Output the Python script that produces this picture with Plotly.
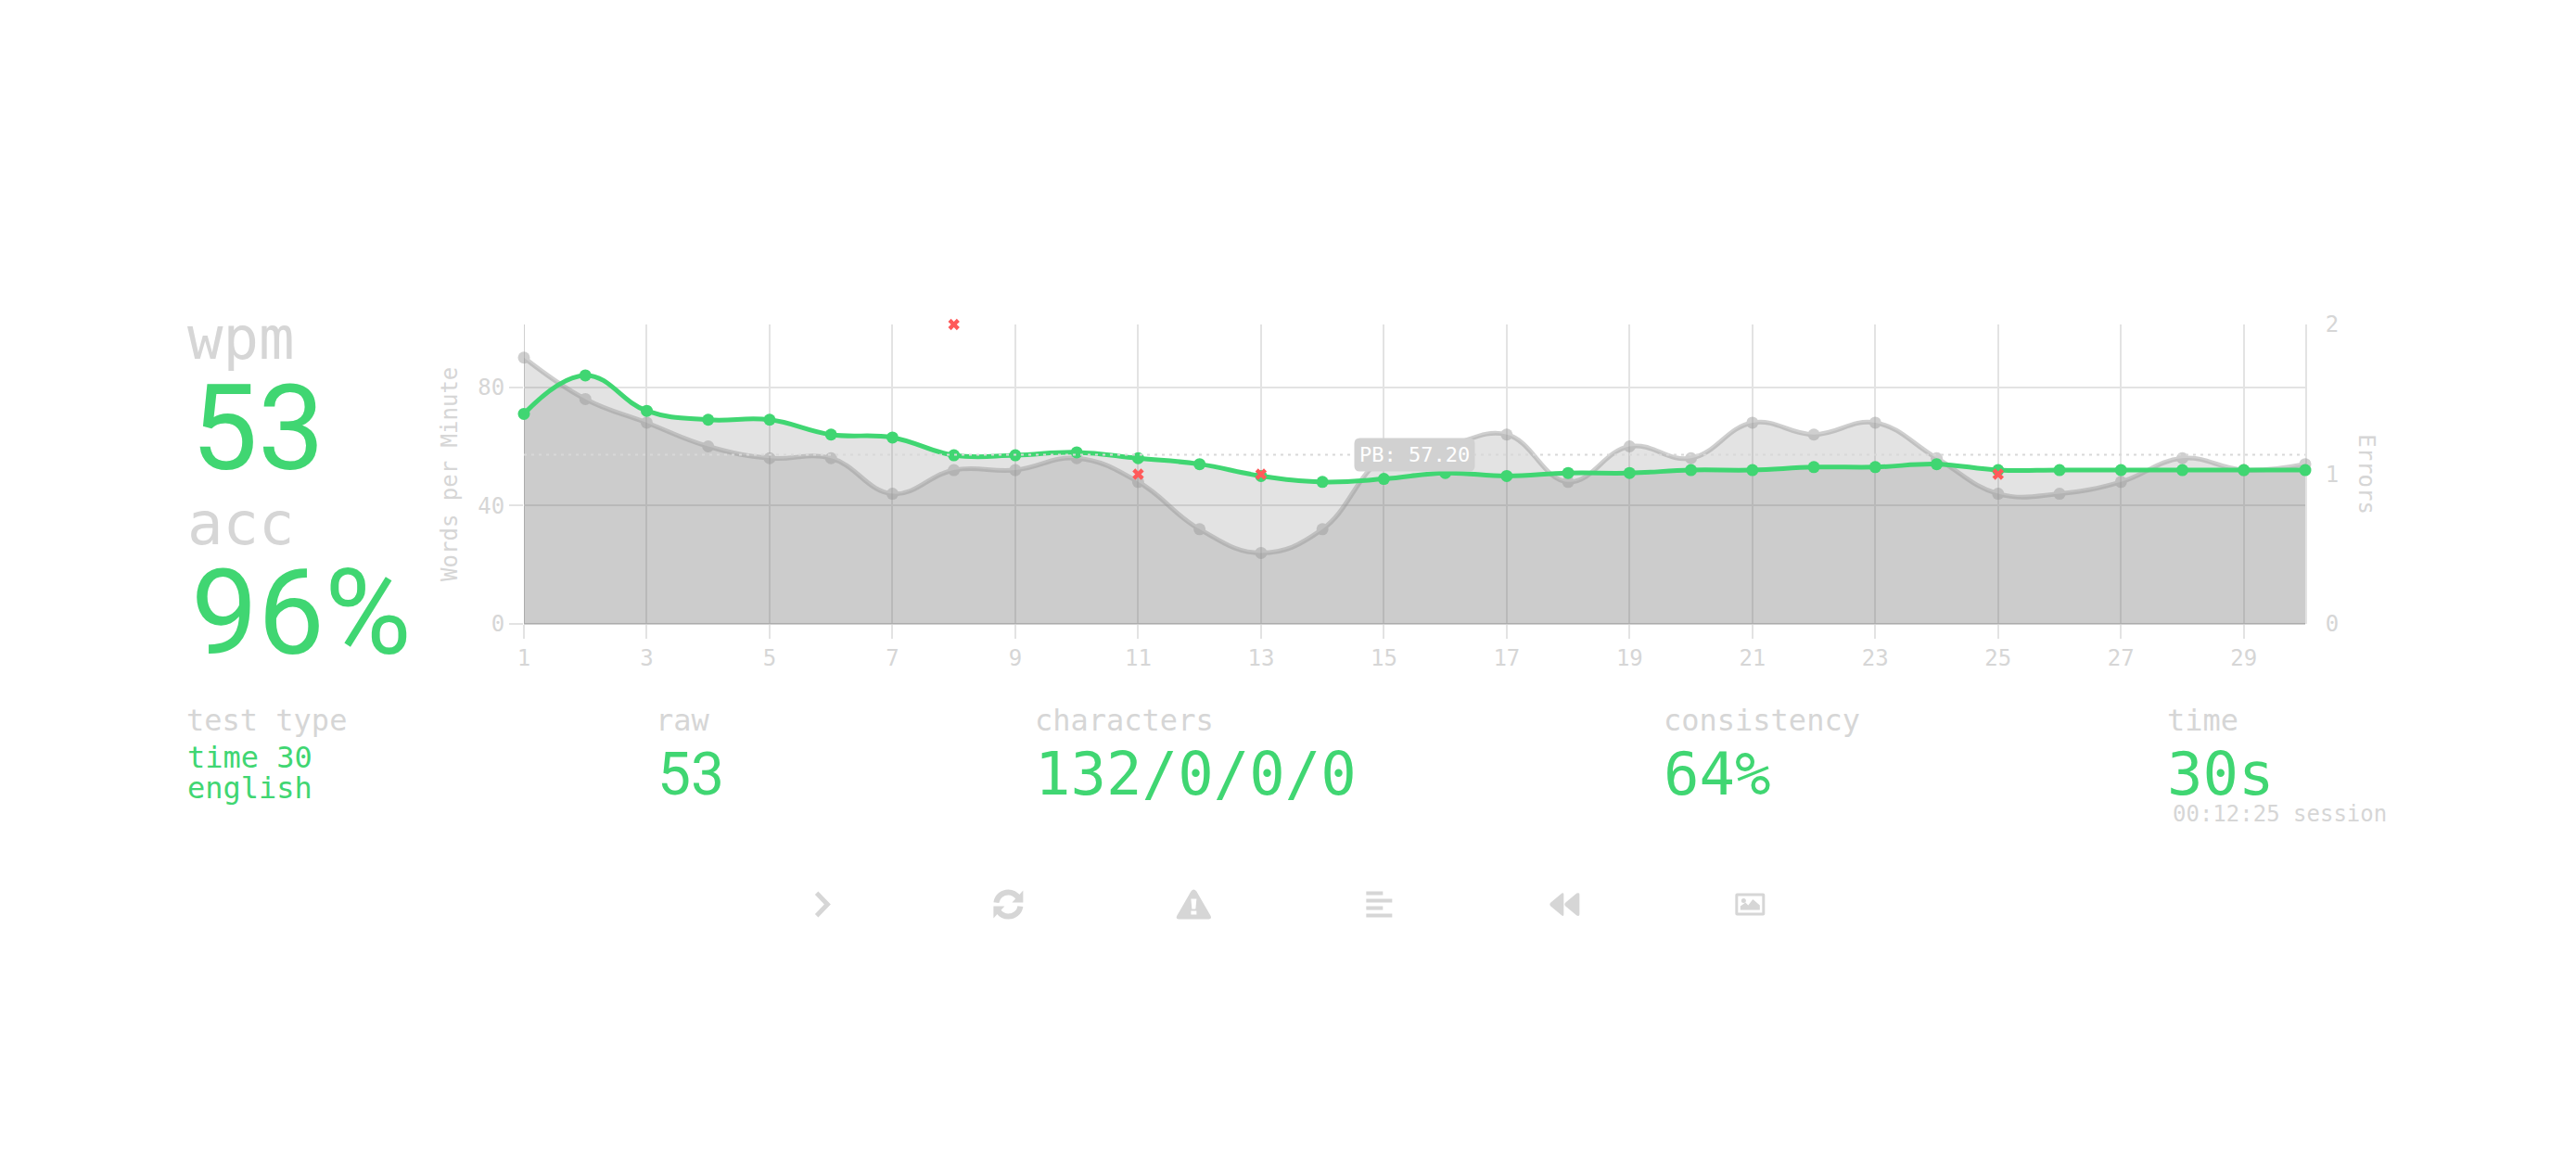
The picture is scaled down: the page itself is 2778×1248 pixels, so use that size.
import plotly.graph_objects as go

# ── data ──
seconds = list(range(1, 31))
raw_wpm = [90, 76, 68, 60, 56, 56, 44, 52, 52, 56, 48, 32, 24, 32, 56,
           60, 64, 48, 60, 56, 68, 64, 68, 56, 44, 44, 48, 56, 52, 54]
wpm = [71, 84, 72, 69, 69, 64, 63, 57, 57, 58, 56, 54, 50, 48, 49,
       51, 50, 51, 51, 52, 52, 53, 53, 54, 52, 52, 52, 52, 52, 52]
error_seconds = [8, 11, 13, 25]
error_counts = [2, 1, 1, 1]
personal_best = 57.2
x_ticks = list(range(1, 30, 2))
y_ticks = [0, 40, 80]
y2_ticks = [0, 1, 2]

# ── colours / fonts ──
GREEN = "#40d672"
SUB = "#d6d6d6"
GRID = "#e3e3e3"
AXIS = "#d0d0d0"
FILL = "rgba(100,100,100,0.18)"
RED = "#ff5a5a"
MONO = "DejaVu Sans Mono"
BIG = "Roboto"
SMOOTH = 1.2  # closest to the tension of the original curves

# ── page geometry: the plot area in page pixels; body has an 8px margin ──
PAGE_W, PAGE_H = 2778, 1248
BODY = 8
PLOT_L, PLOT_R, PLOT_T, PLOT_B = 564.6, 2485.7, 350.0, 672.7
FIG_W, FIG_H = PAGE_W - 2 * BODY, PAGE_H - 2 * BODY
M_L, M_T = PLOT_L - BODY, PLOT_T - BODY
M_R, M_B = FIG_W - (PLOT_R - BODY), FIG_H - (PLOT_B - BODY)
ICON_Y = 975


def paper_x(px):
    return (px - PLOT_L) / (PLOT_R - PLOT_L)


def paper_y(py):
    return (PLOT_B - py) / (PLOT_B - PLOT_T)


fig = go.Figure()

# Fills first so the lines sit on top of both of them
for values in (raw_wpm, wpm):
    fig.add_trace(go.Scatter(
        x=seconds, y=values, mode="lines", fill="tozeroy", fillcolor=FILL,
        line=dict(width=0, shape="spline", smoothing=SMOOTH),
        hoverinfo="skip", showlegend=False,
    ))

fig.add_trace(go.Scatter(
    x=seconds, y=raw_wpm, mode="lines+markers", name="raw", cliponaxis=False,
    line=dict(color="rgb(150,150,150)", width=5, shape="spline", smoothing=SMOOTH),
    marker=dict(size=13, color="rgb(150,150,150)"), opacity=0.45,
    showlegend=False,
))
fig.add_trace(go.Scatter(
    x=seconds, y=wpm, mode="lines+markers", name="wpm", cliponaxis=False,
    line=dict(color=GREEN, width=5, shape="spline", smoothing=SMOOTH),
    marker=dict(size=13, color=GREEN), showlegend=False,
))
fig.add_trace(go.Scatter(
    x=error_seconds, y=error_counts, yaxis="y2", mode="markers", name="errors",
    cliponaxis=False, marker=dict(symbol="x", size=11, color=RED),
    showlegend=False,
))

# Left edge, darker than the other grid lines
fig.add_shape(
    type="line", layer="below", xref="x", yref="paper", x0=seconds[0], x1=seconds[0],
    y0=0, y1=1, line=dict(color=AXIS, width=2),
)

# PB line and its rounded label
fig.add_shape(
    type="line", xref="x", yref="y", x0=seconds[0], x1=seconds[-1],
    y0=personal_best, y1=personal_best,
    line=dict(color="#d8d8d8", width=2, dash="3px,5px"),
)
fig.add_shape(
    type="path", xref="x", yref="y", xsizemode="pixel", ysizemode="pixel",
    xanchor=15.5, yanchor=personal_best,
    path="M-59,18 L59,18 Q65,18 65,12 L65,-12 Q65,-18 59,-18 L-59,-18 "
         "Q-65,-18 -65,-12 L-65,12 Q-65,18 -59,18 Z",
    fillcolor="#d1d1d1", line=dict(width=0),
)
fig.add_annotation(
    x=15.5, y=personal_best, xref="x", yref="y", text=f"PB: {personal_best:.2f}",
    showarrow=False, font=dict(family=MONO, size=22, color="#ffffff"),
)


# ── icons, drawn around their centres (pixel offsets, y up) ──
def icon(cx, path, fill=SUB, line=None):
    fig.add_shape(
        type="path", xref="paper", yref="paper", xsizemode="pixel", ysizemode="pixel",
        xanchor=paper_x(cx), yanchor=paper_y(ICON_Y), path=path, fillrule="evenodd",
        fillcolor=fill, line=line or dict(width=0),
    )


icon(887, "M-5,14 L8.5,0 L-5,-14 L-8.5,-10.5 L1.5,0 L-8.5,10.5 Z")

stroke = dict(color=SUB, width=6)
no_fill = "rgba(0,0,0,0)"
icon(1087, "M-13,2 C-12,9 -6,13 0,13 C4,13 8,11 11,7", fill=no_fill, line=stroke)
icon(1087, "M16,15 L16,2 L4,2 Z")
icon(1087, "M13,-2 C12,-9 6,-13 0,-13 C-4,-13 -8,-11 -11,-7", fill=no_fill, line=stroke)
icon(1087, "M-16,-15 L-16,-2 L-4,-2 Z")

icon(1287,
     "M-3,14 Q0,18 3,14 L18,-12 Q20,-16 16,-16 L-16,-16 Q-20,-16 -18,-12 Z "
     "M-3,6 L3,6 L2,-5 L-2,-5 Z M-3,-7 L3,-7 L3,-11 L-3,-11 Z")

icon(1487,
     "M-14,14 L4,14 L4,10 L-14,10 Z M-14,6 L14,6 L14,2 L-14,2 Z "
     "M-14,-2 L4,-2 L4,-6 L-14,-6 Z M-14,-10 L14,-10 L14,-14 L-14,-14 Z")

icon(1687,
     "M-16,0 Q-16,1 -15,2 L-3,12 Q-1,13 -1,11 L-1,-11 Q-1,-13 -3,-12 L-15,-2 Q-16,-1 -16,0 Z "
     "M0,0 Q0,1 1,2 L13,12 Q16,13 16,11 L16,-11 Q16,-13 13,-12 L1,-2 Q0,-1 0,0 Z")

icon(1887,
     "M-14,12 L14,12 Q16,12 16,10 L16,-10 Q16,-12 14,-12 L-14,-12 "
     "Q-16,-12 -16,-10 L-16,10 Q-16,12 -14,12 Z "
     "M-13,9 L13,9 L13,-9 L-13,-9 Z")
icon(1887, "M-10.5,-6 L-10.5,-2 L-5,2 L-2,-1 L3,5.5 L10.5,-1 L10.5,-6 Z")
icon(1887, "M-9.5,4 Q-9.5,6.5 -7,6.5 Q-4.5,6.5 -4.5,4 Q-4.5,1.5 -7,1.5 Q-9.5,1.5 -9.5,4 Z")


# ── text around the chart, placed by left edge and baseline ──
def label(text, px, baseline, size, color, family=MONO, center=0.346):
    fig.add_annotation(
        x=paper_x(px), y=paper_y(baseline - center * size), xref="paper", yref="paper",
        text=text, showarrow=False, xanchor="left", yanchor="middle", align="left",
        font=dict(family=family, size=size, color=color), borderpad=0,
    )


label("wpm", 201, 387, 64, SUB)
label("53", 205, 508, 128, GREEN, family=BIG, center=0.36)
label("acc", 201, 587, 64, SUB)
label("96%", 205, 707, 128, GREEN, family=BIG, center=0.36)

label("test type", 200, 788, 32, SUB)
label("time 30", 201, 828, 32, GREEN)
label("english", 201, 861, 32, GREEN)
label("raw", 706, 788, 32, SUB)
label("53", 708, 858, 64, GREEN, family=BIG, center=0.36)
label("characters", 1115, 788, 32, SUB)
label("132/0/0/0", 1115, 857, 64, GREEN)
label("consistency", 1793, 788, 32, SUB)
label("64%", 1793, 857, 64, GREEN)
label("time", 2336, 788, 32, SUB)
label("30s", 2336, 857, 64, GREEN)
label("00:12:25 session", 2342, 886, 24, SUB)

# Rotated axis titles
fig.add_annotation(
    x=paper_x(484), y=0.5, xref="paper", yref="paper", text="Words per Minute",
    textangle=-90, showarrow=False, xanchor="center", yanchor="middle",
    font=dict(family=MONO, size=24, color=SUB),
)
fig.add_annotation(
    x=paper_x(2552), y=0.5, xref="paper", yref="paper", text="Errors",
    textangle=90, showarrow=False, xanchor="center", yanchor="middle",
    font=dict(family=MONO, size=24, color=SUB),
)

tick_font = dict(family=MONO, size=24, color=SUB)
fig.update_layout(
    width=FIG_W, height=FIG_H,
    margin=dict(l=M_L, r=M_R, t=M_T, b=M_B, pad=0),
    paper_bgcolor="#ffffff", plot_bgcolor="#ffffff",
    font=dict(family=MONO, color=SUB),
    showlegend=False,
    xaxis=dict(
        range=[seconds[0], seconds[-1]], tickvals=x_ticks, ticks="outside", ticklen=15,
        tickwidth=2, tickcolor=GRID, gridcolor=GRID, gridwidth=2, showgrid=True,
        zeroline=False, showline=False, layer="below traces", tickfont=tick_font,
    ),
    yaxis=dict(
        range=[0, 101.2], tickvals=y_ticks, ticks="outside", ticklen=15, tickwidth=2,
        tickcolor=GRID, gridcolor=GRID, gridwidth=2, zeroline=True, zerolinecolor=AXIS,
        zerolinewidth=2, showline=False, layer="below traces", tickfont=tick_font,
    ),
    yaxis2=dict(
        range=[0, 2], tickvals=y2_ticks, overlaying="y", side="right", ticks="outside",
        ticklen=15, tickcolor="rgba(0,0,0,0)", showgrid=False, zeroline=False,
        showline=True, linecolor=GRID, linewidth=2, layer="below traces",
        tickfont=tick_font,
    ),
)

fig.write_html("out.html")
